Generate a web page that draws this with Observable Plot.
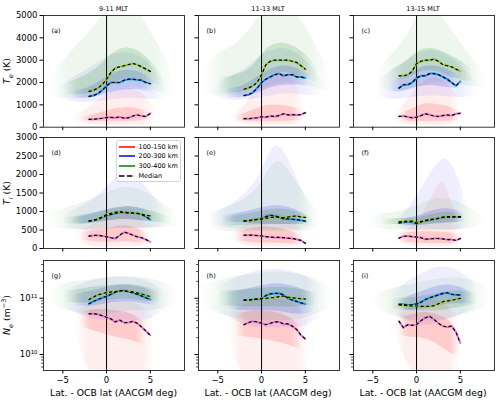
<!DOCTYPE html>
<html><head><meta charset="utf-8">
<script src="https://cdn.jsdelivr.net/npm/d3@7"></script>
<script src="https://cdn.jsdelivr.net/npm/@observablehq/plot@0.6"></script>
<style>
html,body{margin:0;padding:0;background:#fff;}
#fig{position:relative;width:500px;height:402px;overflow:hidden;font-family:"DejaVu Sans",sans-serif;color:#000;}
.abs{position:absolute;white-space:nowrap;line-height:1;}
</style></head><body><div id="fig"></div>
<script>
// ---------- data ----------
const latGrid = [-2,-1.5,-1,-0.5,0,0.5,1,1.5,2,2.5,3,3.5,4,4.5,5];
const columnTitles = ["9-11 MLT","11-13 MLT","13-15 MLT"];
const panelLetters = ["(a)","(b)","(c)","(d)","(e)","(f)","(g)","(h)","(i)"];
const altitudeLabels = ["100-150 km","200-300 km","300-400 km"];
const xTicks = [-5,0,5];
const teTicks = [0,1000,2000,3000,4000,5000];
const tiTicks = [0,500,1000,1500,2000,2500,3000];
const neTicks = [1e10,1e11];
const neMinorTicks = [6e9,7e9,8e9,9e9,2e10,3e10,4e10,5e10,6e10,7e10,8e10,9e10,2e11,3e11,4e11];

// medians (Te, K)
const medA_100 = [350,350,380,400,430,440,420,460,400,420,500,550,500,480,620];
const medA_200 = [1380,1420,1500,1650,1850,2000,2000,2000,2100,2150,2150,2120,2100,2000,1950];
const medA_300 = [1600,1650,1750,1900,2150,2450,2650,2700,2750,2800,2850,2800,2700,2600,2500];
const medB_100 = [380,380,400,420,470,450,500,480,520,600,550,560,550,560,650];
const medB_200 = [1420,1450,1550,1750,2000,2150,2250,2350,2400,2300,2350,2350,2250,2250,2200];
const medB_300 = [1700,1750,1850,2000,2350,2800,2950,3000,3000,3000,3000,2950,2900,2750,2600];
const medC_100 = [480,500,460,420,450,520,600,550,500,480,520,550,520,600,620];
const medC_200 = [1750,1900,1900,2000,2200,2300,2300,2400,2400,2350,2250,2150,2000,1850,2050];
const medC_300 = [2300,2300,2350,2500,2850,2950,3000,3000,3050,2950,2800,2750,2700,2600,2500];
// medians (Ti, K)
const medD_100 = [335,350,360,340,315,290,270,360,440,410,360,315,290,240,180];
const medD_200 = [740,760,790,840,890,920,950,980,970,960,960,950,920,860,780];
const medD_300 = [750,760,800,850,920,950,980,1000,980,970,960,950,930,900,880];
const medE_100 = [360,360,360,350,340,320,310,300,300,290,280,270,250,220,140];
const medE_200 = [740,750,770,790,800,860,900,880,850,800,800,790,780,760,740];
const medE_300 = [750,750,770,780,790,820,840,840,850,830,850,870,880,850,840];
const medF_100 = [280,330,340,320,310,290,250,260,270,270,260,240,240,220,270];
const medF_200 = [690,710,720,720,670,720,750,770,790,810,840,850,850,850,850];
const medF_300 = [720,730,740,740,690,730,760,780,800,820,850,860,860,860,860];
// medians (Ne, m^-3)
const medG_100 = [5.3e10,5.3e10,5.2e10,4.9e10,4.6e10,4.3e10,3.8e10,4.1e10,3.7e10,3.7e10,3.9e10,3.6e10,3.1e10,2.6e10,2.2e10];
const medG_200 = [8e10,8.8e10,9.5e10,1.02e11,1.08e11,1.18e11,1.28e11,1.35e11,1.37e11,1.3e11,1.25e11,1.18e11,1.1e11,1.02e11,9.5e10];
const medG_300 = [9.5e10,1.05e11,1.15e11,1.2e11,1.27e11,1.3e11,1.32e11,1.35e11,1.38e11,1.33e11,1.3e11,1.25e11,1.2e11,1.12e11,1.08e11];
const medH_100 = [3.4e10,3.7e10,3.9e10,3.8e10,3.6e10,3.4e10,3.6e10,3.8e10,3.8e10,3.5e10,3.5e10,3.2e10,2.8e10,2.2e10,1.9e10];
const medH_200 = [9.3e10,9.3e10,9.5e10,9.6e10,9.7e10,1.12e11,1.2e11,1.22e11,1.23e11,1.15e11,1.0e11,9.3e10,8.8e10,8.3e10,7.9e10];
const medH_300 = [9.3e10,9.3e10,9.5e10,9.8e10,1e11,1e11,1.02e11,1.03e11,1.07e11,1.1e11,1.05e11,1.02e11,1e11,9.8e10,9.7e10];
const medI_100 = [3.9e10,3.0e10,3.4e10,3.3e10,3.4e10,4.0e10,4.5e10,4.8e10,4.2e10,3.6e10,3.2e10,3.1e10,3.2e10,2.5e10,1.6e10];
const medI_200 = [7.8e10,7.8e10,7.6e10,7.7e10,7.9e10,8.5e10,9.5e10,1.02e11,1.08e11,1.15e11,1.22e11,1.25e11,1.18e11,1.15e11,1.15e11];
const medI_300 = [7.6e10,7.5e10,7.4e10,7.3e10,7.3e10,7.2e10,7.2e10,7.2e10,7.4e10,8e10,8.7e10,9.0e10,9.2e10,9.6e10,1e11];

// spread of individual traces, read as envelopes: [altitude index, layer (o=outer, c=core), lat, low, high]
const spreadA = [
 [0,"o",-4,300,420],[0,"o",-2.5,150,700],[0,"o",-1,100,1200],[0,"o",0.5,80,1600],[0,"o",2,80,1800],[0,"o",3.5,80,1700],[0,"o",5,100,1200],[0,"o",5.8,300,600],
 [0,"c",-3,280,420],[0,"c",-1,250,600],[0,"c",0.5,250,800],[0,"c",2,250,900],[0,"c",3.5,280,850],[0,"c",5,320,650],
 [1,"o",-5.5,1300,1700],[1,"o",-4,1100,2200],[1,"o",-2,1100,2600],[1,"o",0,1200,3200],[1,"o",2,1300,3400],[1,"o",4,1300,3200],[1,"o",5.5,1200,2600],[1,"o",7,1300,1800],
 [1,"c",-4,1300,1600],[1,"c",-2,1250,1700],[1,"c",0,1500,2300],[1,"c",2,1700,2600],[1,"c",4,1700,2500],[1,"c",5.5,1500,2000],
 [2,"o",-6.6,1400,2100],[2,"o",-5,1300,3000],[2,"o",-3,1300,3800],[2,"o",-1,1400,4700],[2,"o",0.5,1600,5500],[2,"o",2,1800,5500],[2,"o",3.5,1800,5300],[2,"o",5,1700,4300],[2,"o",6.5,1500,3300],[2,"o",7.9,1500,2100],
 [2,"c",-5,1450,1900],[2,"c",-3,1450,2200],[2,"c",-1,1550,2600],[2,"c",0.5,1900,3300],[2,"c",2,2200,3600],[2,"c",3.5,2200,3500],[2,"c",5,2000,3000],[2,"c",6.5,1800,2300]
];
const spreadB = [
 [0,"o",-3.5,300,450],[0,"o",-2,150,900],[0,"o",-0.5,100,1800],[0,"o",1,80,2400],[0,"o",2.5,80,2500],[0,"o",4,100,2000],[0,"o",5,200,1100],
 [0,"c",-3,280,480],[0,"c",-1,250,750],[0,"c",0.5,250,1000],[0,"c",2,250,1000],[0,"c",3.5,280,900],[0,"c",4.8,320,750],
 [1,"o",-5.5,1350,1800],[1,"o",-4,1200,2200],[1,"o",-2,1200,2500],[1,"o",0,1300,3300],[1,"o",2,1500,3600],[1,"o",4,1500,3400],[1,"o",5.5,1400,2800],[1,"o",7,1400,2000],
 [1,"c",-4,1300,1700],[1,"c",-2,1300,1800],[1,"c",0,1600,2400],[1,"c",2,1900,2800],[1,"c",4,1900,2700],[1,"c",5.5,1800,2300],
 [2,"o",-6.6,1500,2600],[2,"o",-5,1400,3400],[2,"o",-3,1400,3600],[2,"o",-1,1500,4500],[2,"o",0.5,1800,5500],[2,"o",2,2000,5500],[2,"o",3.5,2000,5400],[2,"o",5,1900,4500],[2,"o",6.5,1700,3500],[2,"o",8,1600,2300],
 [2,"c",-5,1550,2200],[2,"c",-3,1500,2300],[2,"c",-1,1650,2600],[2,"c",0.5,2300,3600],[2,"c",2,2500,3800],[2,"c",3.5,2400,3700],[2,"c",5,2200,3300],[2,"c",6.5,2000,2600]
];
const spreadC = [
 [0,"o",-2.5,250,550],[0,"o",-1,100,1200],[0,"o",0.5,80,2000],[0,"o",2,80,2300],[0,"o",3.5,100,2000],[0,"o",5,200,1200],
 [0,"c",-2,280,580],[0,"c",-0.5,250,800],[0,"c",1,250,1100],[0,"c",2.5,250,1000],[0,"c",4,280,900],[0,"c",5,320,700],
 [1,"o",-4.5,1400,2000],[1,"o",-3,1200,2500],[1,"o",-1,1300,3000],[1,"o",1,1400,3500],[1,"o",3,1400,3400],[1,"o",5,1300,2800],[1,"o",7,1400,2000],
 [1,"c",-3,1550,2000],[1,"c",-1.5,1600,2200],[1,"c",0,1800,2600],[1,"c",1.5,1900,2800],[1,"c",3,1800,2700],[1,"c",5,1700,2300],
 [2,"o",-4.6,1800,2400],[2,"o",-3,1600,3200],[2,"o",-1,1600,4000],[2,"o",0.5,1800,5500],[2,"o",2,2000,5500],[2,"o",3.5,2000,4600],[2,"o",5,1900,3800],[2,"o",6.5,1800,3000],[2,"o",8,1800,2300],
 [2,"c",-3,2050,2550],[2,"c",-1.5,2100,2800],[2,"c",0,2400,3400],[2,"c",1.5,2600,3600],[2,"c",3,2400,3400],[2,"c",5,2100,3000],[2,"c",6.5,2000,2500]
];
const spreadD = [
 [0,"o",-3.5,200,420],[0,"o",-2,50,600],[0,"o",-0.5,30,800],[0,"o",1,30,1000],[0,"o",2.5,50,1100],[0,"o",4,50,900],[0,"o",5.2,100,450],
 [0,"c",-3,220,430],[0,"c",-1,180,500],[0,"c",0.5,150,550],[0,"c",2,200,650],[0,"c",3.5,150,550],[0,"c",4.8,120,380],
 [1,"o",-5,600,900],[1,"o",-3,500,1100],[1,"o",-1,500,1400],[1,"o",1,550,1900],[1,"o",2.5,550,2200],[1,"o",4,550,1800],[1,"o",5.5,550,1400],[1,"o",7,600,950],
 [1,"c",-4,670,830],[1,"c",-2,650,900],[1,"c",0,750,1050],[1,"c",2,800,1150],[1,"c",4,750,1100],[1,"c",5.5,720,930],
 [2,"o",-6.6,600,950],[2,"o",-4.5,500,1100],[2,"o",-2,500,1300],[2,"o",0,550,1500],[2,"o",2,550,1700],[2,"o",4,550,1600],[2,"o",6,550,1300],[2,"o",8.3,600,950],
 [2,"c",-5,670,830],[2,"c",-2.5,650,900],[2,"c",0,750,1050],[2,"c",2,800,1150],[2,"c",4,750,1100],[2,"c",6,700,950],[2,"c",7.5,670,830]
];
const spreadE = [
 [0,"o",-3.5,230,420],[0,"o",-2,80,600],[0,"o",-0.5,50,800],[0,"o",1,50,1000],[0,"o",2.5,50,900],[0,"o",4,50,700],[0,"o",5,80,400],
 [0,"c",-3,220,430],[0,"c",-1,150,550],[0,"c",0.5,150,600],[0,"c",2,150,550],[0,"c",3.5,120,450],[0,"c",4.8,100,320],
 [1,"o",-6,700,900],[1,"o",-4,550,1100],[1,"o",-2,500,1400],[1,"o",0,500,2000],[1,"o",1.5,500,3000],[1,"o",3,500,2500],[1,"o",4.5,500,1600],[1,"o",6,600,950],
 [1,"c",-4.5,720,880],[1,"c",-2.5,700,950],[1,"c",0,650,1100],[1,"c",2,650,1200],[1,"c",4,650,1050],[1,"c",5.5,680,880],
 [2,"o",-6,550,950],[2,"o",-4,450,1100],[2,"o",-2,450,1300],[2,"o",0,450,1700],[2,"o",1.5,450,2500],[2,"o",3,450,2200],[2,"o",5,450,1400],[2,"o",6.8,550,950],
 [2,"c",-4.5,620,830],[2,"c",-2.5,600,900],[2,"c",0,650,1000],[2,"c",2,650,1100],[2,"c",4,650,1000],[2,"c",6,620,830]
];
const spreadF = [
 [0,"o",-2.5,180,380],[0,"o",-1,80,500],[0,"o",0.5,50,800],[0,"o",2,50,1500],[0,"o",3,50,2000],[0,"o",4,50,1200],[0,"o",5.2,120,450],
 [0,"c",-2,200,380],[0,"c",-0.5,150,450],[0,"c",1,130,450],[0,"c",2.5,130,450],[0,"c",4,130,420],[0,"c",5,170,360],
 [1,"o",-2.5,600,800],[1,"o",-1,500,1000],[1,"o",0.5,500,1600],[1,"o",2,500,2200],[1,"o",3.5,500,2600],[1,"o",5,500,1800],[1,"o",6,600,950],
 [1,"c",-2,630,790],[1,"c",0,600,850],[1,"c",1.5,650,1000],[1,"c",3,680,1100],[1,"c",4.5,700,1050],[1,"c",5.5,720,930],
 [2,"o",-5.4,600,850],[2,"o",-3.5,500,950],[2,"o",-1.5,500,1000],[2,"o",0.5,500,1200],[2,"o",2.5,500,1400],[2,"o",4.5,500,1300],[2,"o",6,550,1100],[2,"o",7.7,600,850],
 [2,"c",-4,660,790],[2,"c",-2,650,820],[2,"c",0,620,800],[2,"c",2,680,950],[2,"c",4,700,1000],[2,"c",5.5,720,930]
];
const spreadG = [
 [0,"o",-3.5,2.5e10,6e10],[0,"o",-2,4e9,8e10],[0,"o",0,3e9,9e10],[0,"o",2,3e9,9e10],[0,"o",4,3e9,8e10],[0,"o",5.5,1e10,4e10],
 [0,"c",-3,3.2e10,5.8e10],[0,"c",-1,2.5e10,6.5e10],[0,"c",1,2e10,6e10],[0,"c",3,1.8e10,5.5e10],[0,"c",4.5,1.4e10,3.5e10],
 [1,"o",-5,7e10,1.3e11],[1,"o",-3,5e10,1.8e11],[1,"o",-1,4e10,2.2e11],[1,"o",1,4e10,2.5e11],[1,"o",3,4e10,2.4e11],[1,"o",5,4e10,2e11],[1,"o",7,7e10,1.3e11],
 [1,"c",-4,7.5e10,1.15e11],[1,"c",-2,7e10,1.3e11],[1,"c",0,8e10,1.6e11],[1,"c",2,9e10,1.8e11],[1,"c",4,8e10,1.6e11],[1,"c",6,7.5e10,1.2e11],
 [2,"o",-6.6,8e10,1.5e11],[2,"o",-4.5,6e10,1.9e11],[2,"o",-2,5e10,2.1e11],[2,"o",0,5e10,2.3e11],[2,"o",2,6e10,2.4e11],[2,"o",4,6e10,2.4e11],[2,"o",6,6e10,2.1e11],[2,"o",8.2,8e10,1.4e11],
 [2,"c",-5,8.5e10,1.3e11],[2,"c",-2.5,8e10,1.5e11],[2,"c",0,9e10,1.7e11],[2,"c",2,1e11,1.8e11],[2,"c",4,9e10,1.7e11],[2,"c",6.5,8.5e10,1.3e11]
];
const spreadH = [
 [0,"o",-3.8,2e10,5e10],[0,"o",-2,3e9,8e10],[0,"o",0,3e9,1e11],[0,"o",2,3e9,1e11],[0,"o",4,3e9,8e10],[0,"o",5.5,8e9,4e10],
 [0,"c",-3,2.2e10,5.2e10],[0,"c",-1,2e10,6e10],[0,"c",1,1.8e10,6e10],[0,"c",3,1.5e10,5e10],[0,"c",4.7,1.2e10,3e10],
 [1,"o",-5,6e10,1.6e11],[1,"o",-3,4e10,2.3e11],[1,"o",-1,3e10,3e11],[1,"o",1,3e10,3.3e11],[1,"o",3,3e10,3.2e11],[1,"o",5,3e10,2.5e11],[1,"o",7,5e10,1.6e11],
 [1,"c",-4,6.5e10,1.25e11],[1,"c",-2,6e10,1.4e11],[1,"c",0,6e10,1.7e11],[1,"c",2,6e10,1.9e11],[1,"c",4,5e10,1.6e11],[1,"c",6,5.5e10,1.2e11],
 [2,"o",-6.8,7e10,1.6e11],[2,"o",-4.5,5e10,2.2e11],[2,"o",-2,4e10,2.6e11],[2,"o",0,4e10,2.8e11],[2,"o",2,4e10,3e11],[2,"o",4,4e10,2.8e11],[2,"o",6,5e10,2.3e11],[2,"o",8.2,7e10,1.5e11],
 [2,"c",-5,7.5e10,1.3e11],[2,"c",-2.5,7e10,1.4e11],[2,"c",0,7e10,1.5e11],[2,"c",2,7e10,1.6e11],[2,"c",4,7e10,1.5e11],[2,"c",6.5,7.5e10,1.2e11]
];
const spreadI = [
 [0,"o",-2.5,2.5e10,5e10],[0,"o",-1,6e9,7e10],[0,"o",0.5,3e9,9e10],[0,"o",2,3e9,1e11],[0,"o",3.5,3e9,8e10],[0,"o",5,4e9,4e10],
 [0,"c",-2,2.2e10,4.8e10],[0,"c",-0.5,2e10,5e10],[0,"c",1,2e10,6e10],[0,"c",2.5,1.5e10,5e10],[0,"c",4,1e10,4e10],[0,"c",5,9e9,2.2e10],
 [1,"o",-3,6e10,1.2e11],[1,"o",-1,4e10,2e11],[1,"o",1,3e10,3e11],[1,"o",3,4e10,4e11],[1,"o",5,5e10,3e11],[1,"o",7,7e10,1.7e11],
 [1,"c",-2,6.5e10,9.5e10],[1,"c",0,6e10,1.2e11],[1,"c",2,7e10,1.6e11],[1,"c",3.5,8e10,1.8e11],[1,"c",5,8e10,1.6e11],[1,"c",6.5,8e10,1.2e11],
 [2,"o",-5,7e10,1.1e11],[2,"o",-3,5e10,1.5e11],[2,"o",-1,4e10,1.7e11],[2,"o",1,4e10,2e11],[2,"o",3,4e10,2.3e11],[2,"o",5,5e10,2.3e11],[2,"o",7,6e10,2e11],[2,"o",8.3,8e10,1.4e11],
 [2,"c",-3,6.5e10,9.5e10],[2,"c",-1,6e10,1e11],[2,"c",1,6e10,1.1e11],[2,"c",3,6e10,1.3e11],[2,"c",5,7e10,1.4e11],[2,"c",7,8e10,1.2e11]
];

// ---------- layout & styling ----------
const panels = [
  {spread: spreadA, med: [medA_100, medA_200, medA_300]},
  {spread: spreadB, med: [medB_100, medB_200, medB_300]},
  {spread: spreadC, med: [medC_100, medC_200, medC_300]},
  {spread: spreadD, med: [medD_100, medD_200, medD_300]},
  {spread: spreadE, med: [medE_100, medE_200, medE_300]},
  {spread: spreadF, med: [medF_100, medF_200, medF_300]},
  {spread: spreadG, med: [medG_100, medG_200, medG_300]},
  {spread: spreadH, med: [medH_100, medH_200, medH_300]},
  {spread: spreadI, med: [medI_100, medI_200, medI_300]}
];
const colL = [43, 197.5, 352.5], W = 141;
const rowT = [15, 137.3, 260], rowH = [111.7, 111, 110];
const spreadColors = ["#ff0000", "#0000ff", "#008000"];
const medColors = ["#e277d4", "#2492dc", "#97c634"];
const fig = document.getElementById("fig");
const supers = {"10": "10¹⁰", "11": "10¹¹"};
const SVGNS = "http://www.w3.org/2000/svg";

panels.forEach((p, k) => {
  const row = Math.floor(k / 3), col = k % 3;
  const mL = col === 0 ? 44 : 6, mR = 2, mT = 2, mB = row === 2 ? 34 : 6;
  const yScale = row === 0 ? {domain: [0, 5000]} : row === 1 ? {domain: [0, 3000]} : {type: "log", domain: [5.2e9, 4.7e11]};
  const yTicks = row === 0 ? teTicks : row === 1 ? tiTicks : neTicks;
  const yFmt = col !== 0 ? () => "" : row === 2 ? d => supers[String(Math.round(Math.log10(d)))] : d => String(d);
  const marks = [];
  [0, 1, 2].forEach(a => {
    ["o", "c"].forEach(layer => {
      const d = p.spread.filter(r => r[0] === a && r[1] === layer).map(r => ({x: r[2], lo: r[3], hi: r[4]}));
      marks.push(Plot.areaY(d, {x: "x", y1: "lo", y2: "hi", fill: `url(#fade${k}_${a})`,
        fillOpacity: layer === "o" ? 0.065 : 0.15, curve: "basis", clip: true}));
    });
  });
  marks.push(Plot.ruleX([0], {stroke: "#000", strokeWidth: 1}));
  p.med.forEach((arr, a) => {
    marks.push(Plot.line(latGrid.map((x, i) => ({x, y: arr[i]})), {x: "x", y: "y", stroke: medColors[a], strokeWidth: 2}));
  });
  p.med.forEach((arr) => {
    marks.push(Plot.line(latGrid.map((x, i) => ({x, y: arr[i]})), {x: "x", y: "y", stroke: "#000", strokeWidth: 1.2, strokeDasharray: "2.2,3.3"}));
  });
  marks.push(Plot.frame({stroke: "#222", strokeWidth: 0.9}));
  marks.push(Plot.axisX({ticks: xTicks, tickSize: 3.5, tickPadding: 2.5, label: null,
    tickFormat: row === 2 ? d => (d < 0 ? "\u2212" + Math.abs(d) : String(d)) : () => ""}));
  marks.push(Plot.axisY({ticks: yTicks, tickSize: 3.5, tickPadding: 2.5, label: null, tickFormat: yFmt}));
  if (row === 2) marks.push(Plot.axisY({ticks: neMinorTicks, tickSize: 2, label: null, tickFormat: () => "", strokeWidth: 0.7}));
  marks.push(Plot.text([panelLetters[k]], {text: d => d, frameAnchor: "top-left", lineAnchor: "middle", textAnchor: "start", dx: 8, dy: 15, fontSize: 6.5}));

  const svg = Plot.plot({
    width: W + mL + mR, height: rowH[row] + mT + mB,
    marginLeft: mL, marginRight: mR, marginTop: mT, marginBottom: mB,
    x: {domain: [-7.2, 8.9]},
    y: yScale,
    style: {background: "transparent", fontFamily: "DejaVu Sans", fontSize: "8.5px", overflow: "visible"},
    marks
  });
  // horizontal fade gradients so the spread fades out at the ends of the traces
  const defs = document.createElementNS(SVGNS, "defs");
  spreadColors.forEach((c, a) => {
    const g = document.createElementNS(SVGNS, "linearGradient");
    g.setAttribute("id", `fade${k}_${a}`);
    g.setAttribute("x1", "0"); g.setAttribute("x2", "1"); g.setAttribute("y1", "0"); g.setAttribute("y2", "0");
    [[0, 0], [0.16, 1], [0.84, 1], [1, 0]].forEach(([o, op]) => {
      const s = document.createElementNS(SVGNS, "stop");
      s.setAttribute("offset", o); s.setAttribute("stop-color", c); s.setAttribute("stop-opacity", op);
      g.append(s);
    });
    defs.append(g);
  });
  svg.insertBefore(defs, svg.firstChild);
  svg.style.position = "absolute";
  svg.style.left = (colL[col] - mL) + "px";
  svg.style.top = (rowT[row] - mT) + "px";
  fig.append(svg);
});

// column titles
columnTitles.forEach((t, c) => {
  const d = document.createElement("div");
  d.className = "abs"; d.textContent = t;
  d.style.fontSize = "6.5px";
  d.style.left = (colL[c] + W / 2) + "px"; d.style.top = "9.3px";
  d.style.transform = "translate(-50%,-50%)";
  fig.append(d);
});
// x labels
columnTitles.forEach((t, c) => {
  const d = document.createElement("div");
  d.className = "abs"; d.textContent = "Lat. - OCB lat (AACGM deg)";
  d.style.fontSize = "9.3px";
  d.style.left = (colL[c] + W / 2) + "px"; d.style.top = "392.7px";
  d.style.transform = "translate(-50%,-50%)";
  fig.append(d);
});
// y labels
const yLabels = ['<i>T</i><sub style="font-size:70%"><i>e</i></sub> (K)', '<i>T</i><sub style="font-size:70%"><i>i</i></sub> (K)', '<i>N</i><sub style="font-size:70%"><i>e</i></sub> (m<sup style="font-size:70%">\u22123</sup>)'];
yLabels.forEach((h, r) => {
  const d = document.createElement("div");
  d.className = "abs"; d.innerHTML = h;
  d.style.fontSize = "9.3px";
  d.style.left = "8px"; d.style.top = (rowT[r] + rowH[r] / 2) + "px";
  d.style.transform = "translate(-50%,-50%) rotate(-90deg)";
  fig.append(d);
});
// legend
const leg = document.createElement("div");
leg.className = "abs";
Object.assign(leg.style, {left: "116px", top: "140px", width: "65px", height: "42px", border: "1px solid #d4d4d4",
  borderRadius: "2.5px", background: "rgba(255,255,255,0.85)", boxSizing: "border-box"});
const legItems = altitudeLabels.map((t, i) => ({t, color: spreadColors[i], dash: null}));
legItems.push({t: "Median", color: "#000", dash: "5.5,2.4"});
legItems.forEach((it, i) => {
  const yc = [6.7, 16.4, 26.1, 35.5][i];
  const s = document.createElementNS(SVGNS, "svg");
  s.setAttribute("width", "18"); s.setAttribute("height", "4");
  s.style.position = "absolute"; s.style.left = "0.5px"; s.style.top = (yc - 3) + "px";
  const l = document.createElementNS(SVGNS, "line");
  l.setAttribute("x1", "1"); l.setAttribute("x2", "17"); l.setAttribute("y1", "2"); l.setAttribute("y2", "2");
  l.setAttribute("stroke", it.color); l.setAttribute("stroke-width", "1.5");
  if (it.dash) l.setAttribute("stroke-dasharray", it.dash);
  s.append(l); leg.append(s);
  const tx = document.createElement("div");
  tx.className = "abs"; tx.textContent = it.t;
  tx.style.fontSize = "6.5px"; tx.style.left = "21.5px"; tx.style.top = (yc - 1) + "px";
  tx.style.transform = "translateY(-50%)";
  leg.append(tx);
});
fig.append(leg);
</script></body></html>
